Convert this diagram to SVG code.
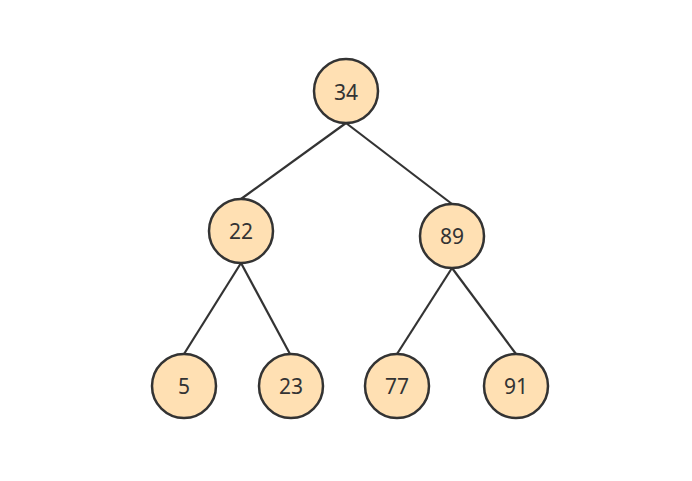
<svg xmlns="http://www.w3.org/2000/svg" width="692" height="481" viewBox="0 0 692 481">
<style>
.n circle{fill:#ffe0b3;stroke:#333333;stroke-width:2.5}
.n text{font-family:"Noto Sans","Open Sans",sans-serif;font-size:21px;fill:#333333;text-anchor:middle;dominant-baseline:central}
#edges line{stroke:#333333;stroke-width:2.2}
</style>
<rect width="692" height="481" fill="#ffffff"/>
<g id="edges">
<line x1="346" y1="123" x2="241" y2="199"/>
<line x1="346" y1="123" x2="452" y2="204"/>
<line x1="241" y1="263" x2="184" y2="354"/>
<line x1="241" y1="263" x2="290" y2="354"/>
<line x1="452" y1="268" x2="397" y2="354"/>
<line x1="452" y1="268" x2="516" y2="354"/>
</g>
<g id="n34" class="n"><circle cx="346" cy="91" r="32"/><text x="346" y="92">34</text></g>
<g id="n22" class="n"><circle cx="241" cy="231" r="32"/><text x="241" y="231">22</text></g>
<g id="n89" class="n"><circle cx="452" cy="236" r="32"/><text x="452" y="236">89</text></g>
<g id="n5" class="n"><circle cx="184" cy="386" r="32"/><text x="184" y="386">5</text></g>
<g id="n23" class="n"><circle cx="291" cy="386" r="32"/><text x="291" y="386">23</text></g>
<g id="n77" class="n"><circle cx="397" cy="386" r="32"/><text x="397" y="386">77</text></g>
<g id="n91" class="n"><circle cx="516" cy="386" r="32"/><text x="516" y="386">91</text></g>
</svg>
